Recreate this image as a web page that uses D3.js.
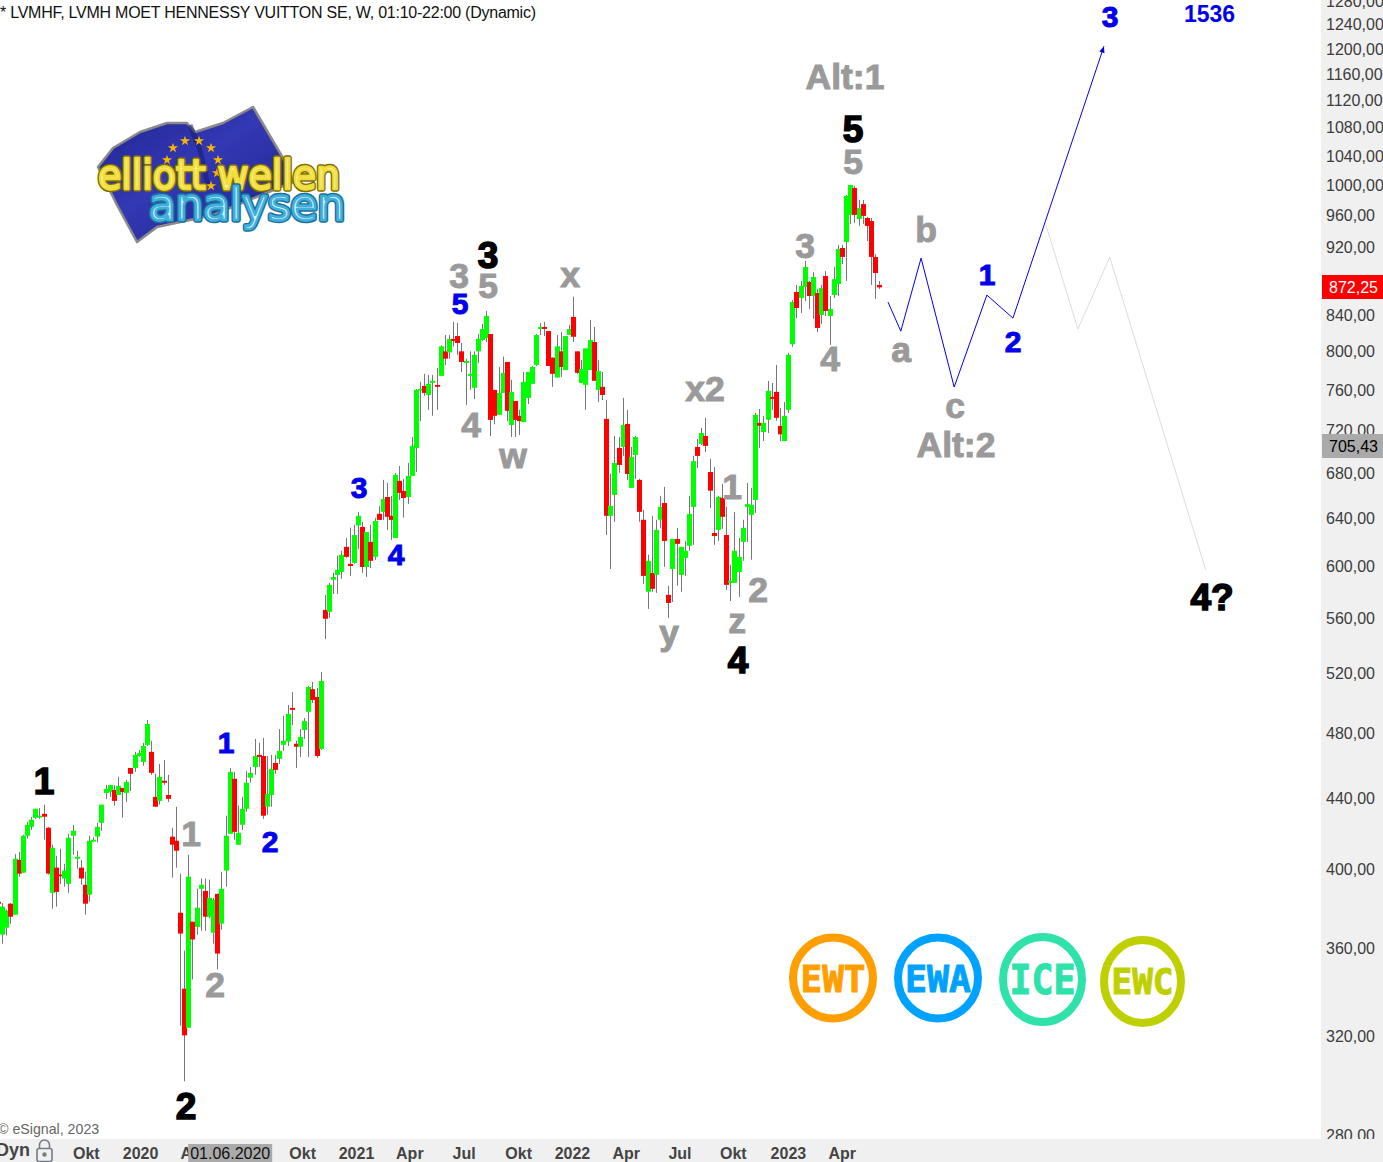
<!DOCTYPE html>
<html><head><meta charset="utf-8">
<script src="https://cdn.jsdelivr.net/npm/d3@7/dist/d3.min.js"></script>
<style>html,body{margin:0;padding:0;background:#fff;overflow:hidden}svg{display:block}text{font-family:"Liberation Sans",Arial,sans-serif}</style>
</head><body><div id="chart"></div>
<script>
// Weekly candles, week 1 .. 214
const opens = [
382.8,366.3,369.7,381.8,376.2,404.9,398,418.2,423.2,428.4,
428.6,430.7,422.7,387.4,400.7,397,394.9,392.1,418.2,405.5,
400.7,391.6,386.4,414.9,417.7,425.5,442.9,443.5,444.7,441.7,
445.9,442.9,458,458,465.4,461.7,472.4,468,440.6,438.2,
450.2,441.7,417.7,415.4,377.2,340.7,323.3,372.7,370.1,389.5,
388.4,375.2,367.2,386.9,371.7,399.1,419.3,451.4,413.2,424.4,
433.6,452,458.6,466.1,465.4,434.8,441.7,461.1,463.6,472.4,
474.5,496.4,473.1,471.2,481.9,493.8,509,503.7,469.8,566.1,
564.6,589.4,593.3,595.7,616,602.1,602.9,633.9,632.7,599.6,
620.2,607.8,643.9,645.6,658.6,642.2,623.4,673,664,658.6,
677.5,703.4,759.6,764.4,755.1,767.5,765.4,774.7,800.6,799.5,
814,817.2,800.6,788.2,774.7,762.4,800.6,812.9,815,819.4,
760.3,735.3,757.2,789.3,725.4,749,734.3,728.2,752,766.5,
786.1,825,827.2,822.7,793.9,773,800.6,780.8,818.3,838.5,
800.6,767.5,765.4,780.8,810.7,760.3,763.4,731.3,642.2,660.4,
703.4,704.3,726.4,666.7,696.8,673.9,638.8,580,594.9,593.3,
638.8,653.3,577.6,598,622.6,593.3,607,616.9,649.9,704.3,
707.1,714.7,681,627.6,630.2,657.8,625.9,587,587,595.6,
620.1,649.9,643,656,727.4,718.6,730.4,753.2,758.3,724.5,
709.9,740.2,808.2,866.9,860,872.8,878.7,862.3,865.8,840.6,
885.7,839.5,863.5,876.3,919.6,926.9,961.3,996.7,956.1,975.3,
957.4,953.5,908.6,875.2];
const highs = [
383.5,382.1,378.8,382.1,408,409.2,418.8,425.9,428.8,433.6,
434,436,423.2,413.2,407.1,411,402.8,419.3,424.4,409.9,
404.9,398.5,418.2,417.4,425.5,436,447.7,447.7,447.5,452.6,
445.9,450.8,458,468,469.2,473.7,488.4,475,454.4,460.5,
462.9,453.8,422.7,434.8,397.5,358.5,407.7,372.7,389.5,394.9,
394.9,394.3,384.8,386.9,398.5,429.6,458,455.6,435.4,440.6,
456.2,458.6,476.2,473.7,476.8,465.4,466.1,466.1,482.5,491.1,
498.4,507,475,482.5,489.7,511.2,514,509.8,520.9,577.5,
587,594.9,608.7,612.8,623.4,632.1,634.5,645.6,637,628.4,
634.5,640.4,650.6,673.9,671.2,659.5,680.2,686.5,674.8,689.3,
713.8,761.3,768.5,776.8,775.7,775.7,782.9,807,818.3,818.3,
832.9,831.7,809.6,792.8,800.6,800.6,819.4,830.6,845.2,819.4,
760.3,783.9,795,789.3,770.6,749,740.2,778.8,778.8,785,
819.4,831.7,832.9,822.7,793.9,818.3,821.6,817.2,829.5,861.4,
800.6,791.2,803.8,835.1,827.2,791.2,778.8,750,679.3,714.7,
713.8,752.2,740.2,704.3,714.7,674.8,647.3,609.5,642.2,638.8,
659.6,667.6,584.7,622.6,631.9,616,620.9,659.6,695.9,711.8,
722.5,732.3,693.2,685.6,659.6,670.3,649.9,601.3,645.6,623.4,
638.8,671.2,666.7,737.2,741.1,734.2,769.5,767.5,786.1,742.1,
748,799,857.6,875.2,879.8,903.7,879.8,890.2,870.5,875.2,
891.5,862.3,896.4,923.3,923.3,987.3,1000.7,999.4,980.7,980.7,
958.7,957.4,912,879.8];
const lows = [
380,361.9,365.9,371.7,376.2,395.9,397.8,416.6,421.5,427.8,
427.8,416,397,379.2,380.3,392,390.6,387.4,407.7,400.1,
391.6,376.2,382.8,414.9,414.5,421,439.4,440.6,435.4,441.7,
428.4,437.6,444.1,455.6,465,459.3,471.7,453.8,434.8,436,
447.7,437.6,395.4,400.7,324.2,300.9,323.3,344.9,366.3,368.2,
368.2,374.5,361.9,349.6,368.7,390.6,419.3,416,413.2,421.5,
431.9,449,453.8,458.6,427.8,430.1,434.8,454.4,460.5,468.6,
471.7,485.1,458,464.8,476.2,464.8,499.7,464.2,469.2,544.3,
560.1,578.3,578.3,590.2,607,592.5,602.1,614.4,594.9,591.7,
598.8,605.4,638.7,638.7,630.2,621.8,623.4,655.9,640.7,652.5,
677.5,681.1,729.1,754.1,740.2,734.3,740.2,774.7,786.1,792.8,
806,796.9,778.8,745.1,760.3,751,788.2,811.9,810.7,714.7,
726,735.3,757.2,729.1,713.8,713.8,715.6,728.2,746,766.5,
785,818.3,817.2,785,763.4,773,773.7,780.8,818.3,810.7,
776.8,767.5,740.2,780.8,769.6,748,750,625.9,598,637,
680.2,696,673.9,666.7,674.8,637,586.2,566.9,580,579.2,
631.9,599.7,560,572.1,584.7,580,592.5,612.8,617.7,684.7,
706.2,699.6,649,617.7,620.9,631.1,581.5,572.9,587,576,
604.6,620.1,605.5,644.7,703.4,709.9,717.6,740.2,729.4,709.9,
709.9,737.2,805.4,837.3,842.9,856.4,847.4,836.2,821.6,830.6,
839.5,807.5,860,862.3,900,879.8,949.7,951,947.2,949.7,
928.2,875.2,858.8,870.5];
const closes = [
381.8,380.3,378.3,375.2,405.5,397.5,418.2,424.4,427.3,433.6,
429.6,429,397.5,411.5,387.9,396.1,399.1,417.1,421,406.6,
394.9,381.8,415.4,416,423.2,436,445.3,447.7,438.2,447.1,
443.5,449.5,454.4,466.1,467.3,471.7,485.8,455,434.8,452.6,
449,439.4,413.2,409.9,366.8,320,395.9,363.9,379.8,391.6,
375.2,384.8,383.8,357.1,389.5,418.2,455.6,420.4,419.9,433.6,
449,455,465.4,464.8,429.6,442.3,457.4,456.8,468.6,475,
492.4,495.1,471.2,477.5,487.7,510.5,501.7,465.4,514.7,559.4,
585.4,591.7,597.3,609.5,607.8,600.4,625.9,642.2,599.6,628.4,
604.6,637.8,638.7,656.8,641.3,638.7,678.4,662.2,657.7,677.5,
705.3,760.3,761.3,757.2,766.5,769.6,763.4,806,792.8,814,
811.9,809.6,789.3,790.4,776.8,796.9,814,825,839.6,730.3,
734.3,757.2,777.8,739.2,758.2,730.3,729.1,768.5,778.8,784,
818.3,827.2,825,785,776.8,806,784,817.2,825,816.4,
777.8,781.9,803.8,812.9,769.6,779.8,755.1,642.2,650.8,689.4,
687.5,725.4,679.2,695,713.7,645.6,592.5,604.6,582.3,630.2,
649.9,620.9,571.4,622.6,618.5,616,612.8,643.9,691,695.9,
717.6,705.3,664.2,625,658.7,641.3,585.4,588.6,612.8,607.8,
631.9,652.4,651.6,735.3,724.5,727.4,759.3,751.2,732.3,716.3,
734.3,796.8,855.3,848.5,874,896.4,862.3,884.5,826.1,871.6,
845.1,847.4,882,918.4,908.6,985.9,1000.7,961.3,970.2,960,
947.2,908.6,889.2,872.25];

// Forecast wave paths (week number, price)
const blueWaveWeeks  = [216,219.1,224,232,239.9,246.2,268.2];
const blueWavePrices = [855.3,822.6,907.2,763.2,863.3,837.1,1205];
const grayWaveWeeks  = [254.2,261.9,269.6,292.8];
const grayWavePrices = [948.2,824.9,908.4,597.2];

const priceTicks = [1280,1240,1200,1160,1120,1080,1040,1000,960,920,840,800,760,720,680,640,600,560,520,480,440,400,360,320,280];
const lastPrice = 872.25;
const crosshairPrice = 705.43;
const timeTickWeeks  = [22.1,35.2,48.2,74.4,87.4,100.3,113.4,126.6,139.6,152.6,165.6,178.5,191.8,204.8];
const timeTickLabels = ["Okt","2020","Apr","Okt","2021","Apr","Jul","Okt","2022","Apr","Jul","Okt","2023","Apr"];
const crosshairWeek = 57;
const crosshairDate = "01.06.2020";

const titleText = "* LVMHF, LVMH MOET HENNESSY VUITTON SE, W, 01:10-22:00 (Dynamic)";
const blackLabels = ["1","2","3","4","5","4?"];
const blueLabels  = ["1","2","3","4","5","3","1","2"];
const grayLabels  = ["1","2","3","5","4","w","x","y","z","x2","1","2","3","4","5","a","b","c","Alt:1","Alt:2"];
const badgeNames  = ["EWT","EWA","ICE","EWC"];

// ---- layout ----
const W=1383,H=1162,plotR=1321,plotB=1139;
const blackPos=[[44,794],[186,1119],[488,268],[738,673],[853,142],[1212,610]];
const bluePos=[[226,753],[270,852],[359,498],[396,565],[460,314],[1110,27],[987,285],[1013,352]];
const grayPos=[[191,846],[215,997],[459,288],[488,298],[471,437],[513,468],[570,287],[669,645],[737,633],[705,401],[732,499],[758,602],[805,258],[830,371],[853,174],[901,362],[926,242],[955,418],[845,89],[956,457]];
const badgeLayout=[
 {cx:833,cy:978,rx:40,ry:40.5,sw:8,c:"#ff9e00",tw:65,fs:38},
 {cx:938,cy:978,rx:40,ry:40.5,sw:8,c:"#00a2ff",tw:66,fs:38},
 {cx:1042.5,cy:979.5,rx:39.5,ry:42.5,sw:8,c:"#2fe2aa",tw:66,fs:40},
 {cx:1142.5,cy:981.5,rx:38.5,ry:41.5,sw:8,c:"#bfd000",tw:62,fs:36}];

const svg=d3.select("#chart").append("svg").attr("width",W).attr("height",H);
const y=d3.scaleLog().domain([280,1240]).range([1135,25]);
const yAxisScale=y.copy().range([1135.8,24.6]);
const x=d3.scaleLinear().domain([2,214]).range([2.68,879.72]);
const col=w=>Math.floor(x(w));

const candles=opens.map((o,i)=>({w:i+1,o,h:highs[i],l:lows[i],c:closes[i]}));

// logo
const logo=svg.append("g");
const defs=svg.append("defs");
const grad=defs.append("linearGradient").attr("id","flagG").attr("x1",0).attr("y1",0).attr("x2",1).attr("y2",1);
grad.append("stop").attr("offset","0%").attr("stop-color","#1f2490");
grad.append("stop").attr("offset","45%").attr("stop-color","#3338b4");
grad.append("stop").attr("offset","100%").attr("stop-color","#1d2388");
const flagPts=[[98,167],[113,148],[140,132],[167,123],[187,123],[195,132],[223,123],[253,107],[283,158],[293,182],[213,215],[157,227],[137,242],[117,205]];
logo.append("path").attr("d",d3.line()(flagPts)+"Z").attr("fill","url(#flagG)").attr("stroke","#8a8a8a").attr("stroke-width",2.5).attr("stroke-linejoin","round");
logo.append("path").attr("d",d3.line()([[190,125],[200,150],[208,185]])).attr("fill","none").attr("stroke","#161a70").attr("stroke-width",5).attr("stroke-opacity",.55);
const starPts=[[173,148],[185,141],[199,141],[211,148],[218,160],[217,173],[211,186],[167,160]];
logo.selectAll("path.star").data(starPts).join("path").attr("class","star")
 .attr("d",d3.symbol(d3.symbolStar,32)).attr("transform",d=>`translate(${d[0]},${d[1]})`).attr("fill","#f7b500");
function logoText(t,xp,yp,len,fs,outer,inner,fill){
 [[outer,5.5,"none"],[inner,2.6,fill]].forEach(([s,w,f])=>{
  logo.append("text").text(t).attr("x",xp).attr("y",yp).attr("textLength",len).attr("lengthAdjust","spacingAndGlyphs")
   .style("font-family","DejaVu Sans").style("font-size",fs+"px").attr("stroke",s).attr("stroke-width",w).attr("stroke-linejoin","round").attr("fill",f);
 });
}
logoText("elliott wellen",98,189,242,40,"#7d6d00","#f0dc3c","#fff7a0");
logoText("analysen",149,220,196,44,"#1c6f9c","#3fb0dc","#d8f2fb");

// candles
const gc=svg.append("g");
const sel=gc.selectAll("g").data(candles).join("g");
sel.append("rect").attr("x",d=>col(d.w)).attr("width",1).attr("y",d=>y(d.h)).attr("height",d=>y(d.l)-y(d.h)).attr("fill","#777");
sel.append("rect").attr("x",d=>col(d.w)-2).attr("width",5)
 .attr("y",d=>y(Math.max(d.o,d.c))).attr("height",d=>Math.max(1.5,y(Math.min(d.o,d.c))-y(Math.max(d.o,d.c))))
 .attr("fill",d=>d.c>=d.o?"#00ff00":"#ff0000");

// forecast paths
const ln=d3.line().x(d=>x(d[0])).y(d=>y(d[1]));
svg.append("path").attr("d",ln(grayWaveWeeks.map((w,i)=>[w,grayWavePrices[i]]))).attr("fill","none").attr("stroke","#dcdcdc").attr("stroke-width",1);
const bp=blueWaveWeeks.map((w,i)=>[w,blueWavePrices[i]]);
svg.append("path").attr("d",ln(bp)).attr("fill","none").attr("stroke","#0000ee").attr("stroke-width",1);
const pA=bp[bp.length-2],pB=bp[bp.length-1];
const ang=Math.atan2(y(pB[1])-y(pA[1]),x(pB[0])-x(pA[0]));
const tx=x(pB[0]),ty=y(pB[1]);
svg.append("path").attr("fill","#0000ee").attr("d",d3.line()([[tx,ty],[tx-7*Math.cos(ang-0.4),ty-7*Math.sin(ang-0.4)],[tx-7*Math.cos(ang+0.4),ty-7*Math.sin(ang+0.4)]])+"Z");

// wave labels
function labels(texts,pos,color,size,strokeW){
 svg.append("g").selectAll("text").data(texts).join("text").text(d=>d)
  .attr("x",(d,i)=>pos[i][0]).attr("y",(d,i)=>pos[i][1]).attr("text-anchor","middle")
  .attr("fill",color).attr("stroke",color).attr("stroke-width",strokeW)
  .style("font-weight","bold").style("font-size",size+"px");
}
labels(blackLabels,blackPos,"#000",37,1.6);
labels(blueLabels,bluePos,"#0000ee",30,1);
labels(grayLabels,grayPos,"#9a9a9a",35.5,1);
svg.append("text").text("1536").attr("x",1209.5).attr("y",22).attr("text-anchor","middle").attr("fill","#0000ee").style("font-weight","bold").style("font-size","23px");

// badges
const gb=svg.append("g").selectAll("g").data(badgeNames).join("g").attr("transform",(d,i)=>`translate(${badgeLayout[i].cx},${badgeLayout[i].cy})`);
gb.append("ellipse").attr("rx",(d,i)=>badgeLayout[i].rx).attr("ry",(d,i)=>badgeLayout[i].ry).attr("fill","none").attr("stroke",(d,i)=>badgeLayout[i].c).attr("stroke-width",(d,i)=>badgeLayout[i].sw);
gb.append("text").text(d=>d).attr("text-anchor","middle").attr("y",(d,i)=>badgeLayout[i].fs*.36)
 .attr("textLength",(d,i)=>badgeLayout[i].tw).attr("lengthAdjust","spacingAndGlyphs")
 .attr("fill",(d,i)=>badgeLayout[i].c).attr("stroke",(d,i)=>badgeLayout[i].c).attr("stroke-width",1)
 .style("font-family","DejaVu Sans Mono").style("font-weight","bold").style("font-size",(d,i)=>badgeLayout[i].fs+"px");

// right axis
svg.append("rect").attr("x",plotR).attr("y",0).attr("width",W-plotR).attr("height",H).attr("fill","#f0f0f0");
const fmt=v=>d3.format(".2f")(v).replace(".",",");
const ay=svg.append("g").attr("transform",`translate(1326,0)`).call(d3.axisRight(yAxisScale).tickValues(priceTicks).tickFormat(fmt).tickSize(0).tickPadding(0));
ay.select(".domain").remove();
ay.selectAll("text").style("font-family",'"Liberation Sans"').style("font-size","16px").attr("fill","#3c3c3c");

function priceTag(p,bg,fg){
 const yy=y(p);
 svg.append("rect").attr("x",1322).attr("y",Math.round(yy)-12).attr("width",61).attr("height",24).attr("fill",bg);
 svg.append("text").text(fmt(p)).attr("x",1353.5).attr("y",yy+6).attr("text-anchor","middle").attr("fill",fg).style("font-size","16px");
}
priceTag(lastPrice,"#ff0000","#fff");
priceTag(crosshairPrice,"#aaaaaa","#000");

// bottom axis
svg.append("rect").attr("x",0).attr("y",plotB).attr("width",W).attr("height",H-plotB).attr("fill","#f0f0f0");
const ax=svg.append("g").attr("transform",`translate(0,${plotB})`).call(d3.axisBottom(x).tickValues(timeTickWeeks).tickFormat((d,i)=>timeTickLabels[i]).tickSize(0).tickPadding(0));
ax.select(".domain").remove();
ax.selectAll("text").attr("dy",0).attr("y",20).style("font-family",'"Liberation Sans"').style("font-size","16px").style("font-weight","bold").attr("fill","#444");
const cx=x(crosshairWeek);
svg.append("rect").attr("x",cx-42).attr("y",1144).attr("width",84).attr("height",18).attr("fill","#aaaaaa");
svg.append("text").text(crosshairDate).attr("x",cx).attr("y",1159).attr("text-anchor","middle").attr("fill","#111").style("font-size","16px");
svg.append("text").text("Dyn").attr("x",-4).attr("y",1156).attr("fill","#444").style("font-weight","bold").style("font-size","18px");
const lock=svg.append("g").attr("fill","none").attr("stroke","#777b85").attr("stroke-width",1.6);
lock.append("rect").attr("x",37).attr("y",1148.5).attr("width",15).attr("height",13).attr("rx",2);
lock.append("path").attr("d","M39.5,1148.5v-3.5a5,5 0 0 1 10,0v3.5");
lock.append("circle").attr("cx",44.5).attr("cy",1154.5).attr("r",1.4).attr("fill","#777b85");

// header & copyright
svg.append("text").text(titleText).attr("x",0).attr("y",18).attr("fill","#111").attr("textLength",536).attr("lengthAdjust","spacing").style("font-size","16px");
svg.append("text").text("© eSignal, 2023").attr("x",-2).attr("y",1134).attr("fill","#666").style("font-size","14.2px");
</script></body></html>
